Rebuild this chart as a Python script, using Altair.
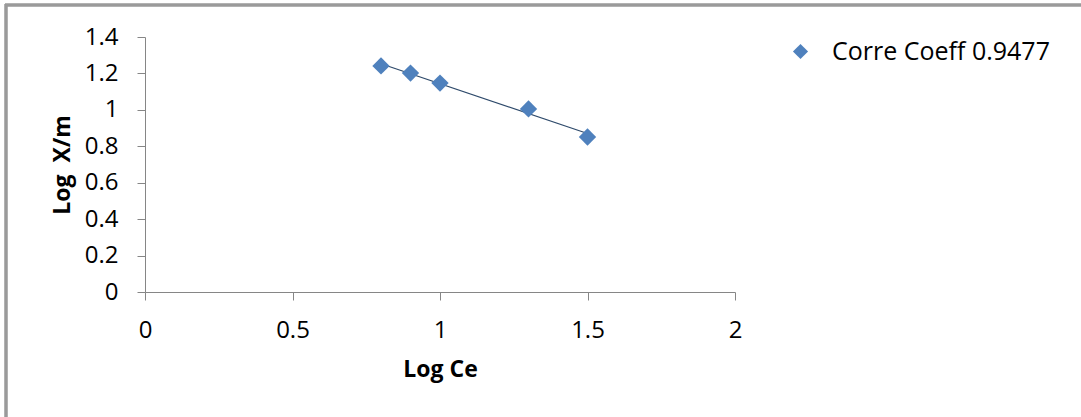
import altair as alt
import pandas as pd

log_ce = [0.8, 0.9, 1.0, 1.3, 1.5]
log_xm = [1.241, 1.202, 1.147, 1.005, 0.851]
series_name = "Corre Coeff 0.9477"

df = pd.DataFrame({"Log Ce": log_ce, "Log X/m": log_xm, "series": [series_name] * len(log_ce)})

FONT = "Open Sans"

x_enc = alt.X("Log Ce:Q", scale=alt.Scale(domain=[0, 2], nice=False),
              axis=alt.Axis(values=[0, 0.5, 1, 1.5, 2], tickCount=10, title="Log Ce", format="~g"))
y_enc = alt.Y("Log X/m:Q", scale=alt.Scale(domain=[0, 1.4], nice=False),
              axis=alt.Axis(values=[0, 0.2, 0.4, 0.6, 0.8, 1, 1.2, 1.4], tickCount=20,
                            title="Log\u00a0 X/m", format="~g"))

points = alt.Chart(df).mark_point(shape="diamond", filled=True, opacity=1, size=300).encode(
    x=x_enc, y=y_enc,
    color=alt.Color("series:N", scale=alt.Scale(range=["#4F81BD"]),
                    legend=alt.Legend(title=None, orient="none", legendX=643, legendY=2,
                                      symbolType="diamond", symbolSize=230, labelLimit=0,
                                      labelFontSize=25, labelFont=FONT, labelColor="#000000",
                                      symbolOpacity=1, labelOffset=19)),
)

trend = alt.Chart(df).transform_regression("Log Ce", "Log X/m").mark_line(
    color="#2E4A6B", strokeWidth=1.2
).encode(x="Log Ce:Q", y="Log X/m:Q")

border_top = alt.Chart(df).mark_rule(color="#9A9A9A", strokeWidth=2.5, clip=False).encode(
    x=alt.value(-140), x2=alt.value(940), y=alt.value(-32)
)
border_left = alt.Chart(df).mark_rule(color="#9A9A9A", strokeWidth=2.5, clip=False).encode(
    x=alt.value(-139), y=alt.value(-33), y2=alt.value(385)
)

chart = alt.layer(border_top, border_left, trend, points).properties(
    width=590, height=255,
    autosize=alt.AutoSizeParams(type="none"),
    padding={"left": 145, "top": 37, "right": 346, "bottom": 125},
    background="#FFFFFF",
).configure_view(stroke=None).configure_axis(
    grid=False, labelOverlap=False, labelFlush=False, labelBound=False,
    domainColor="#868686", tickColor="#868686", domainWidth=1, tickWidth=1,
    tickSize=8, labelFontSize=24, labelFont=FONT, labelColor="#000000",
    titleFont=FONT, titleFontSize=23, titleFontWeight="bold", titleColor="#000000",
).configure_axisX(labelPadding=18, titlePadding=16).configure_axisY(
    labelPadding=19, titlePadding=10
)

chart.save("out.html", embed_options={"renderer": "svg", "actions": False})
